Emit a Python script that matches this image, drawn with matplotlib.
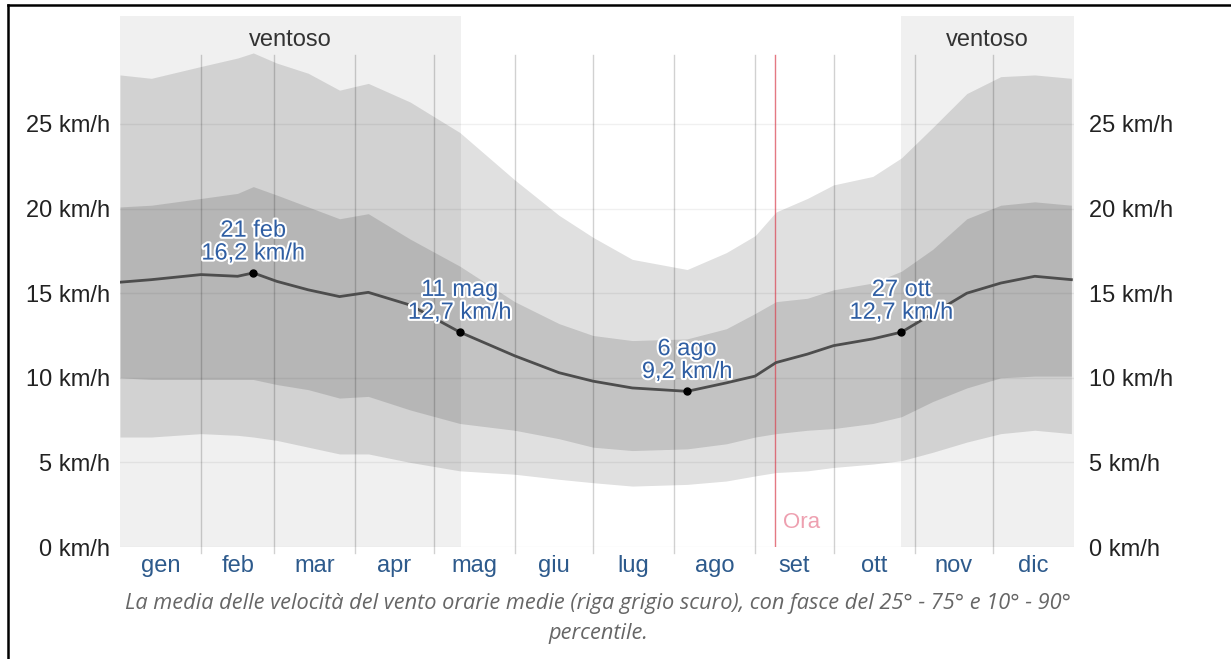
import matplotlib
matplotlib.use("Agg")
import matplotlib.pyplot as plt
from matplotlib.lines import Line2D
import matplotlib.patheffects as pe

# ---------------- data ----------------
days = [0, 12, 31, 45, 51, 60, 72, 84, 95, 111, 130, 151, 168, 181, 196, 217,
        232, 243, 251, 263, 273, 288, 299, 311, 324, 337, 350, 364]
mean_speed = [15.65, 15.8, 16.1, 16.0, 16.2, 15.7, 15.2, 14.8, 15.05, 14.3, 12.7, 11.3,
              10.3, 9.8, 9.4, 9.2, 9.7, 10.1, 10.9, 11.4, 11.9, 12.3, 12.7, 13.8,
              15.0, 15.6, 16.0, 15.8]
p90 = [27.9, 27.7, 28.4, 28.9, 29.2, 28.6, 28.0, 27.0, 27.4, 26.3, 24.5, 21.7,
       19.6, 18.3, 17.0, 16.4, 17.4, 18.4, 19.8, 20.6, 21.4, 21.9, 23.0, 24.8,
       26.8, 27.8, 27.9, 27.7]
p75 = [20.1, 20.2, 20.6, 20.9, 21.3, 20.8, 20.1, 19.4, 19.7, 18.2, 16.6, 14.5,
       13.2, 12.5, 12.2, 12.3, 12.9, 13.8, 14.5, 14.7, 15.2, 15.6, 16.3, 17.6,
       19.4, 20.2, 20.4, 20.2]
p25 = [10.0, 9.9, 9.9, 9.9, 9.9, 9.6, 9.3, 8.8, 8.9, 8.1, 7.3, 6.9,
       6.4, 5.9, 5.7, 5.8, 6.1, 6.5, 6.7, 6.9, 7.0, 7.3, 7.7, 8.6,
       9.4, 10.0, 10.1, 10.1]
p10 = [6.5, 6.5, 6.7, 6.6, 6.5, 6.3, 5.9, 5.5, 5.5, 5.0, 4.5, 4.3,
       4.0, 3.8, 3.6, 3.7, 3.9, 4.2, 4.4, 4.5, 4.7, 4.9, 5.1, 5.6,
       6.2, 6.7, 6.9, 6.7]

month_labels = ["gen", "feb", "mar", "apr", "mag", "giu", "lug", "ago", "set", "ott", "nov", "dic"]
month_starts = [0, 31, 59, 90, 120, 151, 181, 212, 243, 273, 304, 334, 365]

windy_periods = [(0, 130.5), (299, 365)]
windy_label = "ventoso"

highlight_days = [51, 130, 217, 299]
highlight_vals = [16.2, 12.7, 9.2, 12.7]
highlight_text = ["21 feb\n16,2 km/h", "11 mag\n12,7 km/h", "6 ago\n9,2 km/h", "27 ott\n12,7 km/h"]

now_day = 250.6
now_label = "Ora"

yticks = [0, 5, 10, 15, 20, 25]
ytick_labels = [f"{v} km/h" for v in yticks]

caption1 = "La media delle velocità del vento orarie medie (riga grigio scuro), con fasce del 25° - 75° e 10° - 90°"
caption2 = "percentile."

# ---------------- figure ----------------
W, H = 1231, 659
fig = plt.figure(figsize=(W / 100, H / 100), dpi=100)
plt.rcParams['font.family'] = ['Liberation Sans', 'DejaVu Sans']

ax = fig.add_axes([120 / W, 1 - 547 / H, (1074 - 120) / W, (547 - 16) / H])
ymax = (547 - 16) / 16.92
ax.set_xlim(0, 365)
ax.set_ylim(0, ymax)
for s in ax.spines.values():
    s.set_visible(False)

# windy shading
for a, b in windy_periods:
    ax.axvspan(a, b, color="#f0f0f0", lw=0, zorder=0)
    ax.text((a + b) / 2, ymax - 1.4, windy_label, ha="center", va="center",
            fontsize=17, color="#333333", zorder=6)

# bands
ax.fill_between(days, p10, p90, color="black", alpha=0.12, lw=0, zorder=1)
ax.fill_between(days, p25, p75, color="black", alpha=0.13, lw=0, zorder=2)

# horizontal grid
for v in yticks:
    ax.axhline(v, color="black", alpha=0.06, lw=1, zorder=3)

# vertical month grid lines
vtop = (547 - 55) / 16.92
for d in month_starts[1:-1]:
    ax.plot([d, d], [-0.35, vtop], color="black", alpha=0.18, lw=1, zorder=3, clip_on=False)

# now line
ax.plot([now_day, now_day], [0, vtop], color="#d9404f", alpha=0.7, lw=1.0, zorder=4)
ax.text(now_day + 3, 1.45, now_label, color="#eea0b0", fontsize=16, ha="left", va="center", zorder=5)

# mean line
ax.plot(days, mean_speed, color="#4d4d4d", lw=2.0, zorder=5)

# highlights
for d, v, t in zip(highlight_days, highlight_vals, highlight_text):
    ax.plot([d], [v], "o", color="black", ms=5, zorder=7)
    ax.annotate(t, xy=(d, v), xytext=(0, 6), textcoords="offset points",
                ha="center", va="bottom", fontsize=17, color="#2f5ea3",
                linespacing=1.05, zorder=8,
                path_effects=[pe.withStroke(linewidth=3, foreground="white")])

# x ticks (month labels at month centres)
centers = [(month_starts[i] + month_starts[i + 1]) / 2 for i in range(12)]
ax.set_xticks(centers)
ax.set_xticklabels(month_labels, fontsize=17, color="#2d5a8c")
ax.tick_params(axis="x", length=0, pad=6)

ax.set_yticks(yticks)
ax.set_yticklabels(ytick_labels, fontsize=17, color="#222222")
ax.tick_params(axis="y", length=0, pad=7)

ax2 = ax.twinx()
ax2.set_ylim(0, ymax)
ax2.set_yticks(yticks)
ax2.set_yticklabels(ytick_labels, fontsize=17, color="#222222")
ax2.tick_params(axis="y", length=0, pad=11)
for s in ax2.spines.values():
    s.set_visible(False)

# caption
fig.text(598 / W, 1 - 604 / H, caption1, ha="center", va="center", fontsize=15.7,
         style="italic", color="#666666", family=["Open Sans", "DejaVu Sans"])
fig.text(598 / W, 1 - 634 / H, caption2, ha="center", va="center", fontsize=15.7,
         style="italic", color="#666666", family=["Open Sans", "DejaVu Sans"])

# frame (left & top border)
fig.add_artist(Line2D([8 / W, 8 / W], [0, 1 - 5 / H], color="black", lw=1.8))
fig.add_artist(Line2D([8 / W, 1], [1 - 5 / H, 1 - 5 / H], color="black", lw=1.8))

fig.savefig("out.png", dpi=100)
